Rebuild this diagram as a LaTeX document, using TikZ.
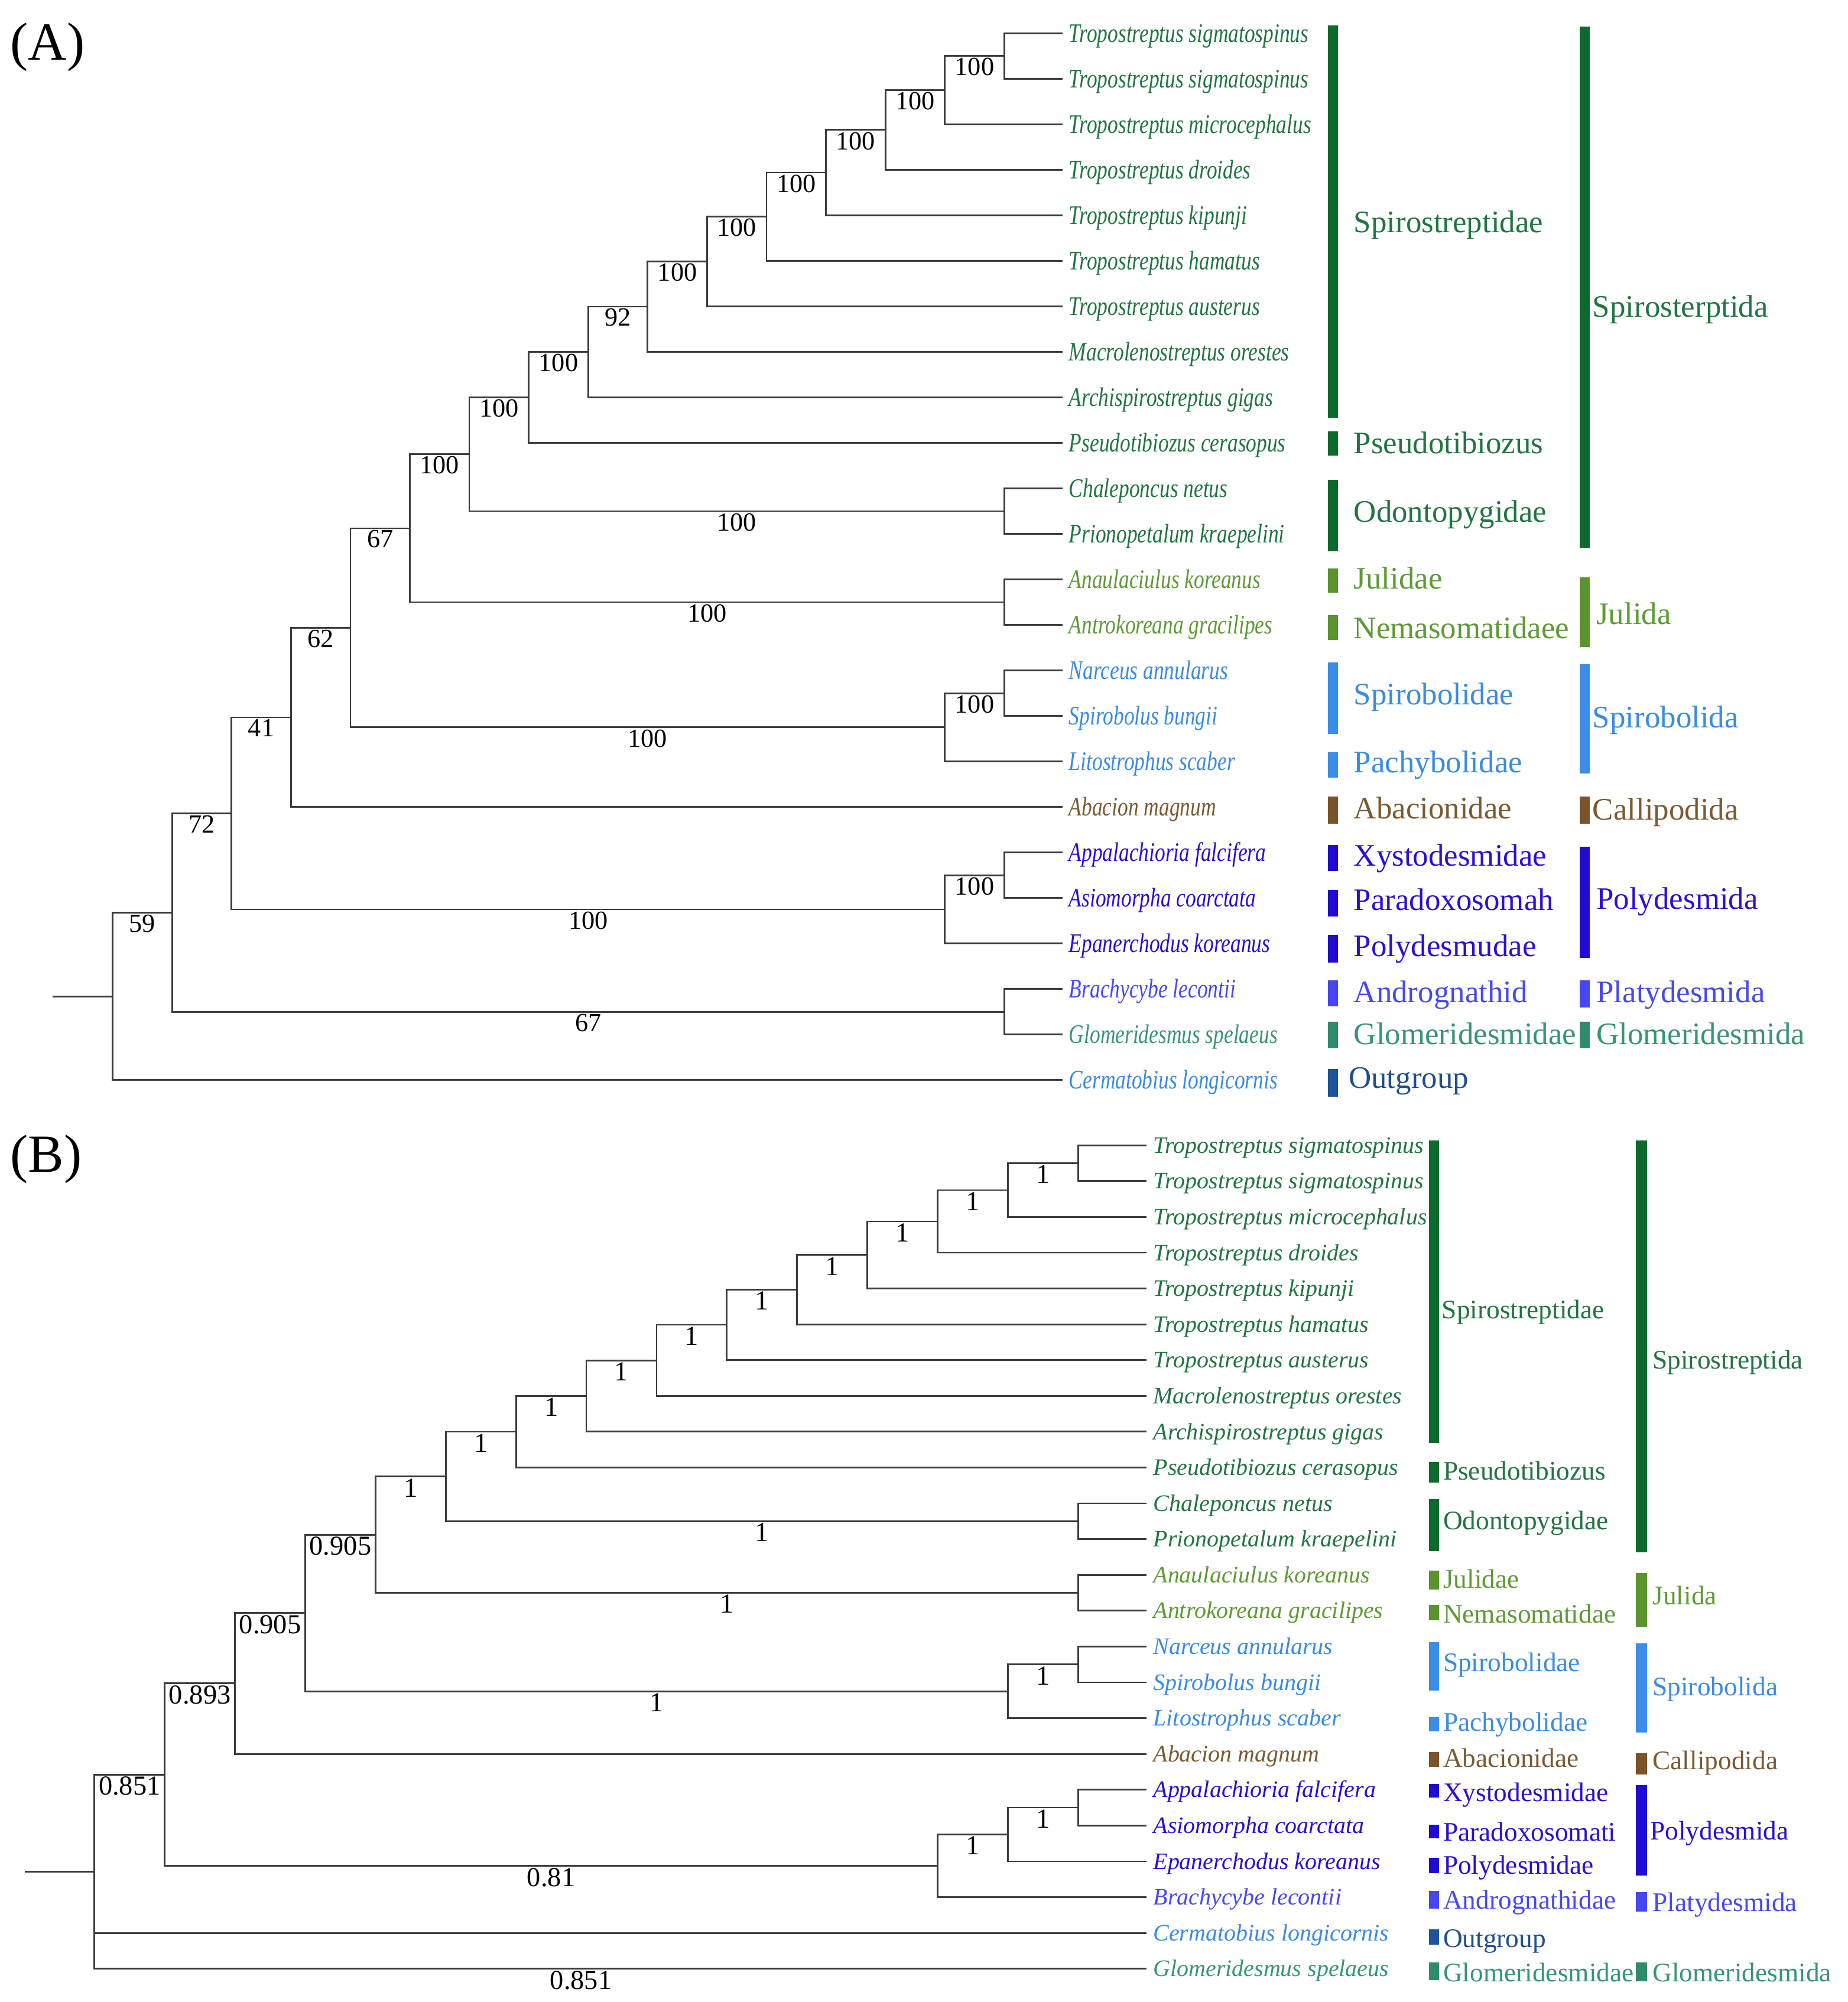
\documentclass[tikz,border=0pt]{standalone}
\usepackage{fontspec}
\setmainfont{Liberation Serif}
\newfontfamily\condfont[FakeStretch=0.78]{Liberation Serif}
\usetikzlibrary{calc}
\definecolor{dgT}{HTML}{217542}
\definecolor{dgB}{HTML}{0B6A2C}
\definecolor{olT}{HTML}{5E9A35}
\definecolor{olB}{HTML}{5B932E}
\definecolor{lbT}{HTML}{3A8BE2}
\definecolor{lbB}{HTML}{3B8EE8}
\definecolor{brT}{HTML}{7A5A32}
\definecolor{brB}{HTML}{7A5428}
\definecolor{pvT}{HTML}{2A10D2}
\definecolor{pvB}{HTML}{1F0BD2}
\definecolor{vbT}{HTML}{4848EE}
\definecolor{vbB}{HTML}{4646F2}
\definecolor{tlT}{HTML}{379479}
\definecolor{tlB}{HTML}{2E8C6C}
\definecolor{ogT}{HTML}{1F4E90}
\definecolor{ogB}{HTML}{1E5499}
\definecolor{lineC}{HTML}{3C3C3C}
\tikzset{
 br/.style={draw=lineC,line width=1.3pt},
 spa/.style={anchor=west,inner sep=0pt,text height=13.9pt,text depth=0pt,font={\condfont\itshape\fontsize{21}{24}\selectfont}},
 spb/.style={anchor=west,inner sep=0pt,text height=12.2pt,text depth=0pt,font={\itshape\fontsize{18.5}{22}\selectfont}},
 lba/.style={anchor=west,inner sep=0pt,text height=16.2pt,text depth=0pt,font={\fontsize{24.5}{28}\selectfont}},
 lbb/.style={anchor=west,inner sep=0pt,text height=13.9pt,text depth=0pt,font={\fontsize{21}{25}\selectfont}},
 supa/.style={anchor=north,inner sep=1.5pt,font={\fontsize{20.5}{24}\selectfont}},
 supb/.style={anchor=north,inner sep=1.5pt,font={\fontsize{21.5}{25}\selectfont}},
 panel/.style={anchor=west,inner sep=0pt,font={\fontsize{42}{48}\selectfont}}
}
\newcommand\tedge[2]{\draw[br] (#1) |- (#2);}
\newcommand\ledge[4]{\draw[br] (#2) |- (#3); \node[#1] (s#3) at ($(#2 |- #3)!0.5!(#3)$) {#4};}
\begin{document}
\begin{tikzpicture}[x=1pt,y=-1pt]
\useasboundingbox (0,0) rectangle (1447,1568);
\fill[white] (0,0) rectangle (1447,1568);

\node[panel] (pA) at (8,37) {(A)};
\node[panel] (pB) at (8,908) {(B)};

% ---------------- Tree A leaves
\foreach \i/\c/\t in {1/dgT/Tropostreptus sigmatospinus,2/dgT/Tropostreptus sigmatospinus,3/dgT/Tropostreptus microcephalus,4/dgT/Tropostreptus droides,5/dgT/Tropostreptus kipunji,6/dgT/Tropostreptus hamatus,7/dgT/Tropostreptus austerus,8/dgT/Macrolenostreptus orestes,9/dgT/Archispirostreptus gigas,10/dgT/Pseudotibiozus cerasopus,11/dgT/Chaleponcus netus,12/dgT/Prionopetalum kraepelini,13/olT/Anaulaciulus koreanus,14/olT/Antrokoreana gracilipes,15/lbT/Narceus annularus,16/lbT/Spirobolus bungii,17/lbT/Litostrophus scaber,18/brT/Abacion magnum,19/pvT/Appalachioria falcifera,20/pvT/Asiomorpha coarctata,21/pvT/Epanerchodus koreanus,22/vbT/Brachycybe lecontii,23/tlT/Glomeridesmus spelaeus,24/lbT/Cermatobius longicornis}{
  \pgfmathsetmacro\yy{26+(\i-1)*35.65}
  \coordinate (LA\i) at (832,\yy);
  \node[spa,text=\c] (TA\i) at (837,\yy) {\t};
}
% internal nodes A
\coordinate (NA1) at (786.45,43.83);
\coordinate (NA2) at (739.9,70.56);
\coordinate (NA3) at (693.35,101.76);
\coordinate (NA4) at (646.8,135.18);
\coordinate (NA5) at (600.25,169.71);
\coordinate (NA6) at (553.7,204.8);
\coordinate (NA7) at (507.15,240.18);
\coordinate (NA8) at (460.6,275.69);
\coordinate (NA9) at (414.05,311.27);
\coordinate (NAod) at (786.45,400.33);
\coordinate (NAs) at (367.5,355.8);
\coordinate (NAju) at (786.45,471.63);
\coordinate (NAx) at (320.95,413.71);
\coordinate (NAsb) at (786.45,542.93);
\coordinate (NAsb2) at (739.9,569.66);
\coordinate (NAy) at (274.4,491.69);
\coordinate (NAz) at (227.85,561.87);
\coordinate (NApd) at (786.45,685.53);
\coordinate (NApd2) at (739.9,712.26);
\coordinate (NAw) at (181.3,637.07);
\coordinate (NApl) at (786.45,792.48);
\coordinate (NAv) at (134.75,714.77);
\coordinate (NAr) at (88.2,780.36);
\coordinate (NAr0) at (41.4,780.36);

\tedge{NA1}{LA1} \tedge{NA1}{LA2}
\ledge{supa}{NA2}{NA1}{100} \tedge{NA2}{LA3}
\ledge{supa}{NA3}{NA2}{100} \tedge{NA3}{LA4}
\ledge{supa}{NA4}{NA3}{100} \tedge{NA4}{LA5}
\ledge{supa}{NA5}{NA4}{100} \tedge{NA5}{LA6}
\ledge{supa}{NA6}{NA5}{100} \tedge{NA6}{LA7}
\ledge{supa}{NA7}{NA6}{100} \tedge{NA7}{LA8}
\ledge{supa}{NA8}{NA7}{92} \tedge{NA8}{LA9}
\ledge{supa}{NA9}{NA8}{100} \tedge{NA9}{LA10}
\tedge{NAod}{LA11} \tedge{NAod}{LA12}
\ledge{supa}{NAs}{NA9}{100} \ledge{supa}{NAs}{NAod}{100}
\tedge{NAju}{LA13} \tedge{NAju}{LA14}
\ledge{supa}{NAx}{NAs}{100} \ledge{supa}{NAx}{NAju}{100}
\tedge{NAsb}{LA15} \tedge{NAsb}{LA16}
\ledge{supa}{NAsb2}{NAsb}{100} \tedge{NAsb2}{LA17}
\ledge{supa}{NAy}{NAx}{67} \ledge{supa}{NAy}{NAsb2}{100}
\ledge{supa}{NAz}{NAy}{62} \tedge{NAz}{LA18}
\tedge{NApd}{LA19} \tedge{NApd}{LA20}
\ledge{supa}{NApd2}{NApd}{100} \tedge{NApd2}{LA21}
\ledge{supa}{NAw}{NAz}{41} \ledge{supa}{NAw}{NApd2}{100}
\tedge{NApl}{LA22} \tedge{NApl}{LA23}
\ledge{supa}{NAv}{NAw}{72} \ledge{supa}{NAv}{NApl}{67}
\ledge{supa}{NAr}{NAv}{59} \tedge{NAr}{LA24}
\draw[br] (NAr0) -- (NAr);

% bars A (family)
\fill[dgB] (1040,20) rectangle (1048,327);
\fill[dgB] (1040,338) rectangle (1048,357);
\fill[dgB] (1040,376) rectangle (1048,432);
\fill[olB] (1040,445) rectangle (1048,464);
\fill[olB] (1040,482) rectangle (1048,501);
\fill[lbB] (1040,519) rectangle (1048,575);
\fill[lbB] (1040,589) rectangle (1048,609);
\fill[brB] (1040,624) rectangle (1048,645);
\fill[pvB] (1040,662) rectangle (1048,682);
\fill[pvB] (1040,697) rectangle (1048,718);
\fill[pvB] (1040,732) rectangle (1048,754);
\fill[vbB] (1040,768) rectangle (1048,788);
\fill[tlB] (1040,800) rectangle (1048,821);
\fill[ogB] (1040,837) rectangle (1048,859);
% bars A (order)
\fill[dgB] (1237,21) rectangle (1245,429);
\fill[olB] (1237,452) rectangle (1245,507);
\fill[lbB] (1237,520) rectangle (1245,606);
\fill[brB] (1237,624) rectangle (1245,645);
\fill[pvB] (1237,663) rectangle (1245,750);
\fill[vbB] (1237,768) rectangle (1245,789);
\fill[tlB] (1237,800) rectangle (1245,821);

% family labels A
\node[lba,text=dgT] (fa1) at (1060,174) {Spirostreptidae};
\node[lba,text=dgT] (fa2) at (1060,347) {Pseudotibiozus};
\node[lba,text=dgT] (fa3) at (1060,401) {Odontopygidae};
\node[lba,text=olT] (fa4) at (1060,453) {Julidae};
\node[lba,text=olT] (fa5) at (1060,492) {Nemasomatidaee};
\node[lba,text=lbT] (fa6) at (1060,544) {Spirobolidae};
\node[lba,text=lbT] (fa7) at (1060,597) {Pachybolidae};
\node[lba,text=brT] (fa8) at (1060,633) {Abacionidae};
\node[lba,text=pvT] (fa9) at (1060,670) {Xystodesmidae};
\node[lba,text=pvT] (fa10) at (1060,705) {Paradoxosomah};
\node[lba,text=pvT] (fa11) at (1060,741) {Polydesmudae};
\node[lba,text=vbT] (fa12) at (1060,777) {Andrognathid};
\node[lba,text=tlT] (fa13) at (1060,810) {Glomeridesmidae};
\node[lba,text=ogT] (fa14) at (1056,844) {Outgroup};
% order labels A
\node[lba,text=dgT] (oa1) at (1247,240) {Spirosterptida};
\node[lba,text=olT] (oa2) at (1250,481) {Julida};
\node[lba,text=lbT] (oa3) at (1247,562) {Spirobolida};
\node[lba,text=brT] (oa4) at (1247,634) {Callipodida};
\node[lba,text=pvT] (oa5) at (1250,704) {Polydesmida};
\node[lba,text=vbT] (oa6) at (1250,777) {Platydesmida};
\node[lba,text=tlT] (oa7) at (1250,810) {Glomeridesmida};

% ---------------- Tree B leaves
\foreach \i/\c/\t in {1/dgT/Tropostreptus sigmatospinus,2/dgT/Tropostreptus sigmatospinus,3/dgT/Tropostreptus microcephalus,4/dgT/Tropostreptus droides,5/dgT/Tropostreptus kipunji,6/dgT/Tropostreptus hamatus,7/dgT/Tropostreptus austerus,8/dgT/Macrolenostreptus orestes,9/dgT/Archispirostreptus gigas,10/dgT/Pseudotibiozus cerasopus,11/dgT/Chaleponcus netus,12/dgT/Prionopetalum kraepelini,13/olT/Anaulaciulus koreanus,14/olT/Antrokoreana gracilipes,15/lbT/Narceus annularus,16/lbT/Spirobolus bungii,17/lbT/Litostrophus scaber,18/brT/Abacion magnum,19/pvT/Appalachioria falcifera,20/pvT/Asiomorpha coarctata,21/pvT/Epanerchodus koreanus,22/vbT/Brachycybe lecontii,23/lbT/Cermatobius longicornis,24/tlT/Glomeridesmus spelaeus}{
  \pgfmathsetmacro\yy{897+(\i-1)*28.04}
  \coordinate (LB\i) at (898,\yy);
  \node[spb,text=\c] (TB\i) at (903,\yy) {\t};
}
\coordinate (NB1) at (844.28,911.02);
\coordinate (NB2) at (789.26,932.05);
\coordinate (NB3) at (734.24,956.59);
\coordinate (NB4) at (679.22,982.88);
\coordinate (NB5) at (624.2,1010.04);
\coordinate (NB6) at (569.18,1037.64);
\coordinate (NB7) at (514.16,1065.46);
\coordinate (NB8) at (459.14,1093.39);
\coordinate (NB9) at (404.12,1121.38);
\coordinate (NBod) at (844.28,1191.42);
\coordinate (NBs) at (349.1,1156.4);
\coordinate (NBju) at (844.28,1247.5);
\coordinate (NBj) at (294.08,1201.95);
\coordinate (NBsb) at (844.28,1303.58);
\coordinate (NBsb2) at (789.26,1324.61);
\coordinate (NBx) at (239.06,1263.28);
\coordinate (NBc) at (184.04,1318.48);
\coordinate (NBpd) at (844.28,1415.74);
\coordinate (NBpd2) at (789.26,1436.77);
\coordinate (NBpd3) at (734.24,1461.31);
\coordinate (NBp) at (129.02,1389.9);
\coordinate (NBr) at (74,1465.91);
\coordinate (NBr0) at (19.6,1465.91);

\tedge{NB1}{LB1} \tedge{NB1}{LB2}
\ledge{supb}{NB2}{NB1}{1} \tedge{NB2}{LB3}
\ledge{supb}{NB3}{NB2}{1} \tedge{NB3}{LB4}
\ledge{supb}{NB4}{NB3}{1} \tedge{NB4}{LB5}
\ledge{supb}{NB5}{NB4}{1} \tedge{NB5}{LB6}
\ledge{supb}{NB6}{NB5}{1} \tedge{NB6}{LB7}
\ledge{supb}{NB7}{NB6}{1} \tedge{NB7}{LB8}
\ledge{supb}{NB8}{NB7}{1} \tedge{NB8}{LB9}
\ledge{supb}{NB9}{NB8}{1} \tedge{NB9}{LB10}
\tedge{NBod}{LB11} \tedge{NBod}{LB12}
\ledge{supb}{NBs}{NB9}{1} \ledge{supb}{NBs}{NBod}{1}
\tedge{NBju}{LB13} \tedge{NBju}{LB14}
\ledge{supb}{NBj}{NBs}{1} \ledge{supb}{NBj}{NBju}{1}
\tedge{NBsb}{LB15} \tedge{NBsb}{LB16}
\ledge{supb}{NBsb2}{NBsb}{1} \tedge{NBsb2}{LB17}
\ledge{supb}{NBx}{NBj}{0.905} \ledge{supb}{NBx}{NBsb2}{1}
\ledge{supb}{NBc}{NBx}{0.905} \tedge{NBc}{LB18}
\tedge{NBpd}{LB19} \tedge{NBpd}{LB20}
\ledge{supb}{NBpd2}{NBpd}{1} \tedge{NBpd2}{LB21}
\ledge{supb}{NBpd3}{NBpd2}{1} \tedge{NBpd3}{LB22}
\ledge{supb}{NBp}{NBc}{0.893} \ledge{supb}{NBp}{NBpd3}{0.81}
\ledge{supb}{NBr}{NBp}{0.851} \tedge{NBr}{LB23} \tedge{NBr}{LB24}
\node[supb] (sLB24) at (455,1541.92) {0.851};
\draw[br] (NBr0) -- (NBr);

% bars B (family)
\fill[dgB] (1119,893) rectangle (1127,1130);
\fill[dgB] (1119,1145) rectangle (1127,1161);
\fill[dgB] (1119,1174) rectangle (1127,1215);
\fill[olB] (1119,1230) rectangle (1127,1245);
\fill[olB] (1119,1257) rectangle (1127,1269);
\fill[lbB] (1119,1286) rectangle (1127,1324);
\fill[lbB] (1119,1345) rectangle (1127,1356);
\fill[brB] (1119,1372) rectangle (1127,1384);
\fill[pvB] (1119,1397) rectangle (1127,1408);
\fill[pvB] (1119,1429) rectangle (1127,1440);
\fill[pvB] (1119,1455) rectangle (1127,1467);
\fill[vbB] (1119,1481) rectangle (1127,1495);
\fill[ogB] (1119,1511) rectangle (1127,1523);
\fill[tlB] (1119,1537) rectangle (1127,1551);
% bars B (order)
\fill[dgB] (1281,893) rectangle (1290,1216);
\fill[olB] (1281,1232) rectangle (1290,1274);
\fill[lbB] (1281,1287) rectangle (1290,1357);
\fill[brB] (1281,1373) rectangle (1290,1390);
\fill[pvB] (1281,1398) rectangle (1290,1469);
\fill[vbB] (1281,1482) rectangle (1290,1497);
\fill[tlB] (1281,1537) rectangle (1290,1552);

% family labels B
\node[lbb,text=dgT] (fb1) at (1129,1026) {Spirostreptidae};
\node[lbb,text=dgT] (fb2) at (1130,1152) {Pseudotibiozus};
\node[lbb,text=dgT] (fb3) at (1130,1191) {Odontopygidae};
\node[lbb,text=olT] (fb4) at (1130,1237) {Julidae};
\node[lbb,text=olT] (fb5) at (1130,1264) {Nemasomatidae};
\node[lbb,text=lbT] (fb6) at (1130,1302) {Spirobolidae};
\node[lbb,text=lbT] (fb7) at (1130,1349) {Pachybolidae};
\node[lbb,text=brT] (fb8) at (1130,1377) {Abacionidae};
\node[lbb,text=pvT] (fb9) at (1130,1404) {Xystodesmidae};
\node[lbb,text=pvT] (fb10) at (1130,1435) {Paradoxosomati};
\node[lbb,text=pvT] (fb11) at (1130,1461) {Polydesmidae};
\node[lbb,text=vbT] (fb12) at (1130,1488) {Andrognathidae};
\node[lbb,text=ogT] (fb13) at (1130,1518) {Outgroup};
\node[lbb,text=tlT] (fb14) at (1130,1545) {Glomeridesmidae};
% order labels B
\node[lbb,text=dgT] (ob1) at (1294,1065) {Spirostreptida};
\node[lbb,text=olT] (ob2) at (1294,1250) {Julida};
\node[lbb,text=lbT] (ob3) at (1294,1321) {Spirobolida};
\node[lbb,text=brT] (ob4) at (1294,1379) {Callipodida};
\node[lbb,text=pvT] (ob5) at (1292,1434) {Polydesmida};
\node[lbb,text=vbT] (ob6) at (1294,1490) {Platydesmida};
\node[lbb,text=tlT] (ob7) at (1294,1545) {Glomeridesmida};
\end{tikzpicture}
\end{document}
